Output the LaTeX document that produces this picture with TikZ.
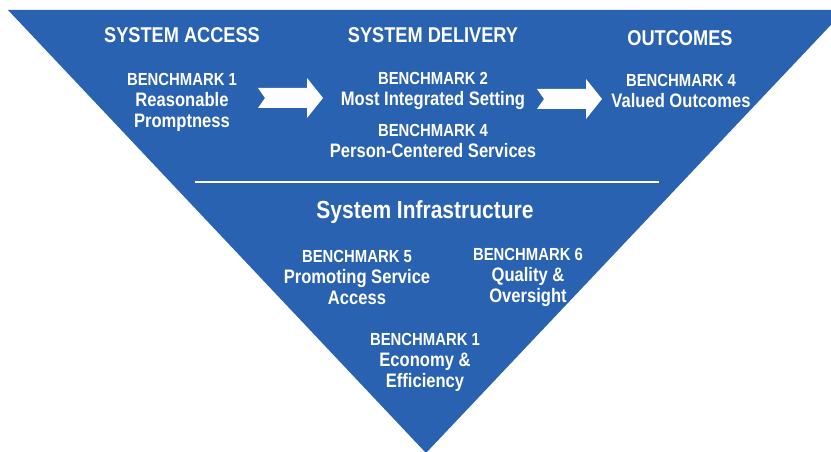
\documentclass[tikz,border=0pt]{standalone}
\usepackage{fontspec}
\setmainfont{Liberation Sans}[FakeStretch=0.85]
\usetikzlibrary{positioning}
\definecolor{triblue}{RGB}{41,98,176}
\newcommand{\bmk}[1]{{\fontsize{17.5}{21}\selectfont BENCHMARK #1}}

\begin{document}
\begin{tikzpicture}[x=1pt,y=-1pt,
    heading/.style={text=white,inner sep=0pt,font=\bfseries\fontsize{21.4}{24}\selectfont},
    bench/.style={text=white,inner sep=0pt,align=center,font=\bfseries\fontsize{19.5}{21}\selectfont}]
        \useasboundingbox (0,0) rectangle (831,452);
        \clip (0,0) rectangle (831,452);
        % the triangle
        \fill[triblue] (8,10) -- (845,10) -- (426,453) -- cycle;
        \draw[white,line width=2.5pt] (195,182) -- (659,182);
        % block arrows
        \foreach \x/\y in {258/98,537/99}
            \fill[white] (\x,\y) ++(0,-10) -- ++(49,0) -- ++(0,-10) -- ++(16,20)
                -- ++(-16,20) -- ++(0,-10) -- ++(-49,0) -- ++(7,-10) -- cycle;
        % top row
        \node[heading] (access) at (182,35) {SYSTEM ACCESS};
        \node[heading] (delivery) at (433,35) {SYSTEM DELIVERY};
        \node[heading] (outcomes) at (680,38) {OUTCOMES};
        \node[bench] (bmA) at (182,102) {\bmk{1}\\Reasonable\\Promptness};
        \node[bench] (bmB) at (433,91) {\bmk{2}\\Most Integrated Setting};
        \node[bench] (bmC) at (433,141) {\bmk{4}\\Person-Centered Services};
        \node[bench] (bmD) at (681,91) {\bmk{4}\\Valued Outcomes};
        % infrastructure
        \node[heading,font=\bfseries\fontsize{24.7}{28}\selectfont] (infra) at (425,212) {System Infrastructure};
        \node[bench] (bmE) at (357,277) {\bmk{5}\\Promoting Service\\Access};
        \node[bench] (bmF) at (528,277) {\bmk{6}\\Quality \&\\Oversight};
        \node[bench] (bmG) at (425,362) {\bmk{1}\\Economy \&\\Efficiency};
    \end{tikzpicture}
\end{document}
